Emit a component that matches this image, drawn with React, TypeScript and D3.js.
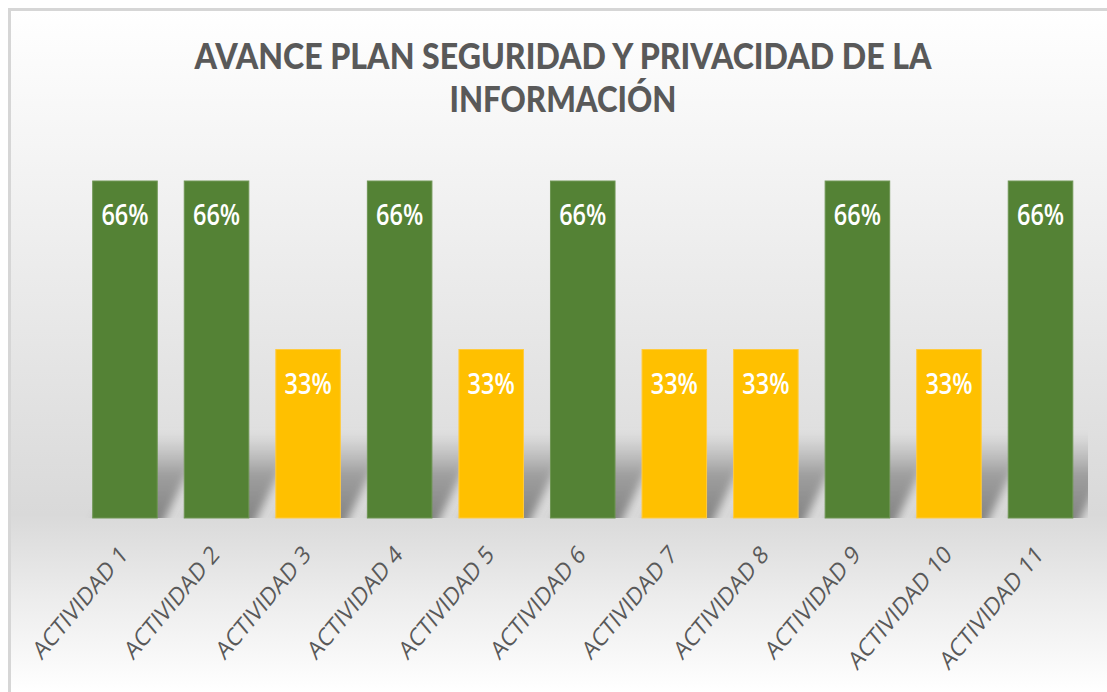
import React from "react";
import * as d3 from "d3";

const categories = [
  "ACTIVIDAD 1", "ACTIVIDAD 2", "ACTIVIDAD 3", "ACTIVIDAD 4", "ACTIVIDAD 5", "ACTIVIDAD 6",
  "ACTIVIDAD 7", "ACTIVIDAD 8", "ACTIVIDAD 9", "ACTIVIDAD 10", "ACTIVIDAD 11",
];
const values = [0.66, 0.66, 0.33, 0.66, 0.33, 0.66, 0.33, 0.33, 0.66, 0.33, 0.66];
const titleLines = ["AVANCE PLAN SEGURIDAD Y PRIVACIDAD DE LA", "INFORMACIÓN"];

const W = 1107;
const H = 692;
const GREEN = "#548235";
const YELLOW = "#FFC000";

export default function App() {
  const x = d3
    .scaleBand<string>()
    .domain(categories)
    .range([79.2, 1086.3])
    .paddingInner(0.295)
    .paddingOuter(0.1475);
  const y = d3.scaleLinear().domain([0, 0.7]).range([518, 160.6]);
  const base = y(0);
  const bw = x.bandwidth();
  const fmt = d3.format(".0%");
  const shadowH = 85;
  const shadowDx = 50;

  return (
    <svg
      width={W}
      height={H}
      style={{ position: "absolute", left: 0, top: 0, display: "block" }}
    >
      <defs>
        <linearGradient id="bg" gradientUnits="userSpaceOnUse" x1="0" y1="8" x2="0" y2="692">
          <stop offset="0" stopColor="#ffffff" />
          <stop offset="0.22" stopColor="#f4f4f4" />
          <stop offset="0.74" stopColor="#d9d9d9" />
          <stop offset="0.86" stopColor="#ececec" />
          <stop offset="1" stopColor="#ffffff" />
        </linearGradient>
        <linearGradient id="sh" x1="0" y1="1" x2="0" y2="0">
          <stop offset="0" stopColor="#7f7f7f" stopOpacity="1" />
          <stop offset="0.55" stopColor="#939393" stopOpacity="0.85" />
          <stop offset="1" stopColor="#a6a6a6" stopOpacity="0" />
        </linearGradient>
        <filter id="blur" x="-50%" y="-50%" width="200%" height="200%">
          <feGaussianBlur stdDeviation="4" />
        </filter>
        <clipPath id="plotclip">
          <rect x={79} y={150} width={1009} height={base - 150} />
        </clipPath>
      </defs>

      <rect x={8} y={8} width={1130} height={720} fill="url(#bg)" />
      <rect x={9.5} y={9.5} width={1130} height={720} fill="none" stroke="#d6d6d6" strokeWidth={3} />

      {/* title */}
      {titleLines.map((t, i) => (
        <g key={i} transform={`translate(563, ${i === 0 ? 69 : 112}) scale(1,1.2)`}>
          <text
            x={0}
            y={0}
            textAnchor="middle"
            fontFamily="Lato, 'Open Sans', sans-serif"
            fontWeight={900}
            fontSize={30}
            fill="#595959"
            textLength={i === 0 ? 737 : 227}
            lengthAdjust="spacingAndGlyphs"
          >
            {t}
          </text>
        </g>
      ))}

      {/* shadows */}
      <g clipPath="url(#plotclip)">
        {categories.map((c) => {
          const x0 = x(c)!;
          const x1 = x0 + bw;
          const pts = [
            [x0, base + 8],
            [x1 + 4, base + 8],
            [x1 + shadowDx, base - shadowH],
            [x0 + shadowDx, base - shadowH],
          ];
          return (
            <polygon
              key={c}
              points={pts.map((p) => p.join(",")).join(" ")}
              fill="url(#sh)"
              filter="url(#blur)"
            />
          );
        })}
      </g>

      {/* bars */}
      {categories.map((c, i) => (
        <rect
          key={c}
          x={x(c)}
          y={y(values[i])}
          width={bw}
          height={base - y(values[i])}
          fill={values[i] > 0.5 ? GREEN : YELLOW}
          stroke={values[i] > 0.5 ? "#6e9553" : "#ffcb40"}
          strokeWidth={1}
        />
      ))}

      {/* data labels */}
      {categories.map((c, i) => (
        <g key={c} transform={`translate(${x(c)! + bw / 2}, ${y(values[i]) + 44}) scale(1,1.25)`}>
          <text
            textAnchor="middle"
            fontFamily="'Open Sans', sans-serif"
            fontWeight={600}
            fontSize={23.5}
            fill="#ffffff"
          >
            {fmt(values[i])}
          </text>
        </g>
      ))}

      {/* x labels */}
      {categories.map((c) => (
        <g key={c} transform={`translate(${x(c)! + bw / 2 + 4}, 556) scale(1,1.2) rotate(-45)`}>
          <text
            textAnchor="end"
            fontFamily="'Open Sans', sans-serif"
            fontWeight={400}
            fontSize={21}
            fill="#595959"
          >
            {c}
          </text>
        </g>
      ))}
    </svg>
  );
}
